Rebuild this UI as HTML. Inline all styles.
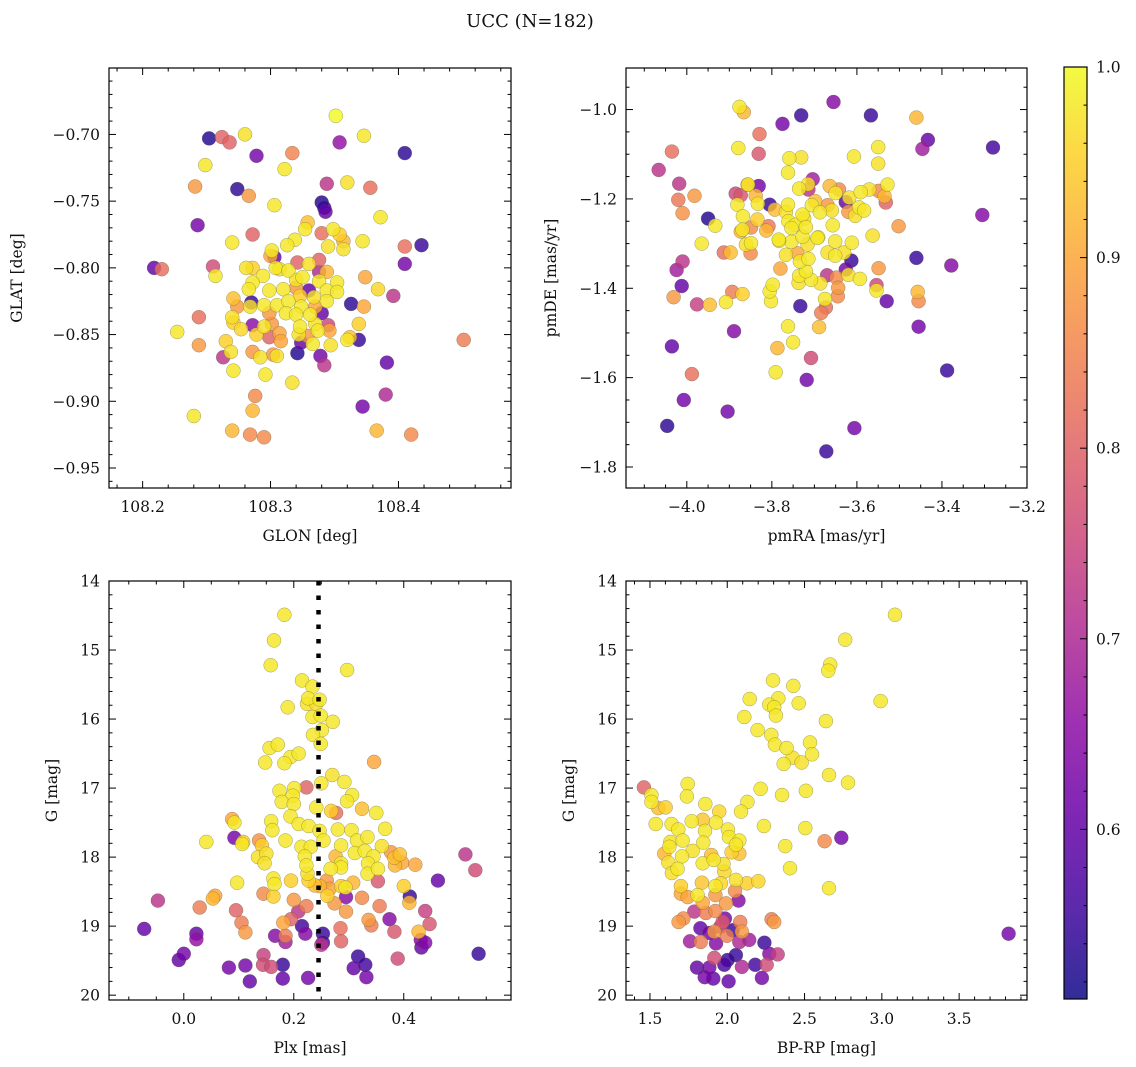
<!DOCTYPE html>
<html><head><meta charset="utf-8"><title>UCC (N=182)</title>
<style>
html,body{margin:0;padding:0;background:#fff;}
svg{display:block;font-family:"DejaVu Serif","Liberation Serif",serif;}
</style></head>
<body>
<svg id="fig" width="1136" height="1067" viewBox="0 0 1136 1067" xmlns="http://www.w3.org/2000/svg">
<defs>
<linearGradient id="plasmaGrad" x1="0" y1="1" x2="0" y2="0">
<stop offset="0" stop-color="#0d0887"/><stop offset="0.1" stop-color="#41049d"/><stop offset="0.2" stop-color="#6a00a8"/><stop offset="0.3" stop-color="#8f0da4"/><stop offset="0.4" stop-color="#b12a90"/><stop offset="0.5" stop-color="#cc4778"/><stop offset="0.6" stop-color="#e16462"/><stop offset="0.7" stop-color="#f2844b"/><stop offset="0.8" stop-color="#fca636"/><stop offset="0.9" stop-color="#fcce25"/><stop offset="1" stop-color="#f0f921"/>
</linearGradient>
</defs>
<text x="530" y="27" font-size="18" text-anchor="middle" fill="#111">UCC (N=182)</text>
</svg>
<script>
// ---- Panel 1: GLON vs GLAT ----
const glonX = [108.351,108.252,108.262,108.268,108.280,108.354,108.373,108.405,108.289,108.317,108.249,108.311,108.241,108.274,108.283,108.344,108.360,108.378,108.303,108.340,108.342,108.343,108.386,108.243,108.286,108.329,108.327,108.340,108.349,108.354,108.357,108.357,108.270,108.319,108.313,108.345,108.372,108.405,108.418,108.301,108.303,108.300,108.209,108.215,108.255,108.257,108.281,108.286,108.321,108.338,108.330,108.304,108.307,108.314,108.294,108.286,108.283,108.320,108.325,108.338,108.344,108.338,108.352,108.405,108.374,108.384,108.396,108.299,108.310,108.320,108.330,108.334,108.344,108.352,108.271,108.285,108.274,108.284,108.295,108.305,108.314,108.323,108.324,108.335,108.344,108.363,108.373,108.244,108.227,108.270,108.271,108.277,108.286,108.295,108.301,108.299,108.312,108.320,108.331,108.340,108.323,108.335,108.345,108.346,108.337,108.289,108.299,108.307,108.308,108.322,108.324,108.329,108.333,108.369,108.360,108.362,108.369,108.265,108.244,108.263,108.269,108.286,108.292,108.302,108.305,108.321,108.339,108.342,108.347,108.271,108.296,108.317,108.391,108.288,108.390,108.372,108.286,108.240,108.270,108.284,108.295,108.383,108.410,108.451];
const glatY = [-0.686,-0.703,-0.702,-0.706,-0.700,-0.706,-0.701,-0.714,-0.716,-0.714,-0.723,-0.726,-0.739,-0.741,-0.746,-0.737,-0.736,-0.740,-0.753,-0.751,-0.755,-0.758,-0.762,-0.768,-0.775,-0.766,-0.771,-0.774,-0.771,-0.775,-0.780,-0.786,-0.781,-0.779,-0.783,-0.784,-0.780,-0.784,-0.783,-0.787,-0.792,-0.791,-0.800,-0.801,-0.799,-0.806,-0.800,-0.800,-0.796,-0.794,-0.797,-0.800,-0.801,-0.802,-0.806,-0.811,-0.816,-0.809,-0.807,-0.803,-0.803,-0.810,-0.811,-0.797,-0.807,-0.816,-0.821,-0.817,-0.816,-0.815,-0.817,-0.822,-0.817,-0.818,-0.823,-0.826,-0.829,-0.829,-0.828,-0.828,-0.825,-0.821,-0.829,-0.829,-0.825,-0.827,-0.829,-0.837,-0.848,-0.837,-0.841,-0.846,-0.843,-0.844,-0.842,-0.834,-0.834,-0.835,-0.835,-0.834,-0.844,-0.842,-0.843,-0.847,-0.847,-0.850,-0.852,-0.849,-0.855,-0.850,-0.856,-0.851,-0.857,-0.842,-0.854,-0.852,-0.854,-0.855,-0.858,-0.867,-0.863,-0.863,-0.867,-0.865,-0.866,-0.864,-0.866,-0.873,-0.858,-0.877,-0.880,-0.886,-0.871,-0.896,-0.895,-0.904,-0.907,-0.911,-0.922,-0.925,-0.927,-0.922,-0.925,-0.854];
const glatProb = [1.0,0.53,0.8,0.8,0.97,0.66,0.98,0.54,0.62,0.85,0.98,0.98,0.88,0.54,0.88,0.72,0.97,0.82,0.98,0.53,0.55,0.6,0.98,0.62,0.8,0.93,0.98,0.82,0.98,0.95,0.92,0.97,0.98,0.98,0.98,0.97,0.98,0.82,0.55,0.98,0.6,0.9,0.6,0.82,0.76,0.98,0.97,0.95,0.8,0.8,0.97,0.98,0.97,0.98,0.98,0.98,0.98,0.97,0.98,0.7,0.92,0.98,0.98,0.62,0.9,0.96,0.72,0.98,0.98,0.88,0.6,0.97,0.98,0.98,0.93,0.55,0.88,0.97,0.98,0.98,0.98,0.95,0.98,0.9,0.98,0.54,0.9,0.82,0.98,0.97,0.95,0.96,0.65,0.97,0.88,0.88,0.98,0.98,0.98,0.6,0.98,0.97,0.75,0.9,0.98,0.95,0.8,0.9,0.9,0.97,0.6,0.88,0.98,0.95,0.98,0.93,0.55,0.95,0.88,0.72,0.97,0.88,0.97,0.88,0.97,0.53,0.62,0.72,0.97,0.98,0.98,0.97,0.6,0.86,0.7,0.62,0.92,0.98,0.92,0.86,0.86,0.92,0.86,0.84];

// ---- Panel 2: pmRA vs pmDE ----
const pmraX = [-3.876,-3.866,-3.655,-3.731,-3.775,-3.567,-3.460,-3.829,-3.433,-3.446,-3.280,-4.035,-3.879,-3.831,-3.759,-3.731,-3.607,-3.550,-3.550,-4.066,-3.762,-4.018,-3.982,-4.020,-4.010,-3.950,-3.933,-3.965,-3.913,-3.897,-4.010,-4.024,-4.012,-4.031,-3.976,-3.946,-3.908,-3.893,-3.869,-3.889,-4.035,-3.988,-4.007,-3.904,-4.046,-3.802,-3.805,-3.798,-3.780,-3.733,-3.762,-3.750,-3.787,-3.791,-3.708,-3.718,-3.689,-3.684,-3.673,-3.675,-3.606,-3.672,-3.645,-3.644,-3.648,-3.670,-3.708,-3.686,-3.736,-3.737,-3.720,-3.734,-3.714,-3.740,-3.767,-3.754,-3.783,-3.728,-3.691,-3.651,-3.669,-3.651,-3.630,-3.612,-3.613,-3.626,-3.620,-3.593,-3.549,-3.554,-3.554,-3.530,-3.460,-3.378,-3.457,-3.455,-3.455,-3.388,-3.305,-3.502,-3.563,-3.604,-3.595,-3.583,-3.620,-3.626,-3.618,-3.650,-3.664,-3.642,-3.591,-3.571,-3.549,-3.535,-3.532,-3.528,-3.704,-3.714,-3.736,-3.715,-3.762,-3.767,-3.761,-3.745,-3.728,-3.724,-3.720,-3.706,-3.698,-3.687,-3.669,-3.659,-3.657,-3.693,-3.716,-3.805,-3.793,-3.857,-3.831,-3.856,-3.885,-3.873,-3.838,-3.833,-3.881,-3.868,-3.834,-3.808,-3.813,-3.849,-3.869,-3.873,-3.861,-3.849,-3.850,-3.784,-3.754];
const pmdeY = [-0.994,-1.006,-0.983,-1.013,-1.032,-1.013,-1.018,-1.055,-1.068,-1.088,-1.085,-1.094,-1.086,-1.099,-1.109,-1.107,-1.105,-1.084,-1.121,-1.135,-1.141,-1.166,-1.193,-1.202,-1.232,-1.244,-1.260,-1.300,-1.320,-1.320,-1.340,-1.359,-1.395,-1.420,-1.436,-1.437,-1.431,-1.408,-1.413,-1.496,-1.530,-1.592,-1.650,-1.676,-1.708,-1.429,-1.407,-1.392,-1.356,-1.440,-1.485,-1.521,-1.534,-1.588,-1.556,-1.605,-1.487,-1.455,-1.443,-1.424,-1.713,-1.765,-1.418,-1.399,-1.376,-1.371,-1.381,-1.389,-1.372,-1.388,-1.362,-1.340,-1.334,-1.322,-1.325,-1.296,-1.294,-1.285,-1.286,-1.295,-1.320,-1.327,-1.320,-1.298,-1.338,-1.358,-1.370,-1.379,-1.355,-1.393,-1.405,-1.429,-1.332,-1.349,-1.408,-1.429,-1.486,-1.584,-1.236,-1.261,-1.282,-1.238,-1.219,-1.226,-1.229,-1.207,-1.197,-1.187,-1.171,-1.179,-1.185,-1.179,-1.182,-1.194,-1.208,-1.168,-1.156,-1.179,-1.177,-1.167,-1.213,-1.229,-1.250,-1.258,-1.235,-1.244,-1.263,-1.214,-1.205,-1.230,-1.214,-1.226,-1.259,-1.287,-1.302,-1.213,-1.224,-1.168,-1.171,-1.168,-1.188,-1.192,-1.193,-1.211,-1.213,-1.239,-1.246,-1.261,-1.271,-1.264,-1.269,-1.273,-1.302,-1.299,-1.322,-1.291,-1.265];
const pmProb = [0.98,0.92,0.64,0.55,0.62,0.55,0.92,0.82,0.6,0.68,0.56,0.82,0.98,0.78,0.98,0.97,0.98,0.98,0.97,0.72,0.98,0.72,0.88,0.83,0.87,0.53,0.98,0.98,0.82,0.93,0.72,0.68,0.6,0.88,0.74,0.93,0.98,0.84,0.95,0.64,0.6,0.82,0.62,0.62,0.54,0.98,0.98,0.98,0.9,0.55,0.98,0.98,0.92,0.98,0.76,0.62,0.93,0.84,0.82,0.98,0.62,0.55,0.86,0.88,0.86,0.72,0.98,0.97,0.98,0.97,0.98,0.98,0.98,0.9,0.97,0.98,0.98,0.98,0.98,0.98,0.97,0.98,0.97,0.98,0.55,0.62,0.97,0.98,0.88,0.75,0.98,0.6,0.55,0.64,0.92,0.86,0.62,0.55,0.64,0.88,0.97,0.97,0.98,0.98,0.88,0.6,0.97,0.98,0.92,0.86,0.98,0.97,0.86,0.92,0.8,0.98,0.68,0.72,0.98,0.97,0.98,0.97,0.98,0.98,0.98,0.97,0.98,0.98,0.93,0.98,0.88,0.97,0.98,0.98,0.97,0.55,0.93,0.87,0.62,0.98,0.75,0.78,0.92,0.98,0.98,0.98,0.95,0.83,0.92,0.86,0.98,0.92,0.97,0.98,0.86,0.98,0.98];

// ---- Panel 3: Plx vs G ----
const plxX = [0.183,0.164,0.158,0.297,0.215,0.234,0.226,0.224,0.247,0.241,0.189,0.234,0.249,0.271,0.251,0.235,0.249,0.156,0.171,0.194,0.209,0.183,0.148,0.346,0.223,0.270,0.292,0.250,0.174,0.201,0.198,0.178,0.200,0.306,0.297,0.241,0.268,0.277,0.324,0.350,0.088,0.092,0.159,0.161,0.194,0.209,0.227,0.247,0.280,0.305,0.366,0.041,0.092,0.108,0.106,0.137,0.142,0.185,0.254,0.286,0.315,0.334,0.360,0.135,0.150,0.147,0.214,0.231,0.220,0.223,0.225,0.276,0.311,0.329,0.345,0.335,0.334,0.286,0.286,0.267,0.353,0.377,0.383,0.393,0.397,0.384,0.421,0.512,0.530,0.462,0.353,0.400,0.411,0.410,0.097,0.163,0.165,0.195,0.227,0.238,0.247,0.260,0.265,0.286,0.294,0.308,0.261,0.274,0.295,0.324,0.356,0.145,0.163,0.200,0.223,0.057,0.053,0.029,-0.047,0.095,0.105,0.112,0.208,0.195,0.181,0.295,0.285,0.336,0.341,0.374,0.383,0.439,0.447,0.427,0.431,0.432,0.439,0.389,0.536,-0.072,0.023,0.023,0.000,-0.009,0.082,0.112,0.120,0.145,0.144,0.159,0.180,0.180,0.166,0.185,0.185,0.215,0.221,0.226,0.253,0.253,0.250,0.286,0.317,0.309,0.330,0.332];
const plxG = [14.49,14.86,15.22,15.29,15.44,15.53,15.70,15.78,15.72,15.78,15.83,15.97,15.95,16.04,16.16,16.23,16.36,16.42,16.37,16.55,16.50,16.64,16.63,16.62,16.99,16.81,16.91,16.93,17.04,17.00,17.11,17.20,17.23,17.10,17.19,17.28,17.33,17.36,17.30,17.36,17.45,17.50,17.48,17.61,17.41,17.52,17.55,17.62,17.60,17.61,17.59,17.78,17.72,17.78,17.81,17.76,17.83,17.76,17.76,17.83,17.76,17.71,17.84,18.00,17.95,18.09,17.85,17.85,17.99,18.12,18.24,17.99,17.94,17.91,17.99,18.09,18.24,18.09,18.15,18.17,18.17,17.93,18.01,17.96,18.08,18.12,18.11,17.96,18.19,18.34,18.35,18.42,18.57,18.66,18.37,18.31,18.39,18.34,18.34,18.41,18.42,18.34,18.46,18.42,18.44,18.37,18.56,18.67,18.58,18.59,18.71,18.53,18.57,18.62,18.71,18.56,18.60,18.73,18.63,18.77,18.95,19.09,18.79,18.90,18.95,18.79,19.03,18.91,18.99,18.90,19.08,18.78,18.97,19.08,19.20,19.31,19.24,19.47,19.40,19.04,19.11,19.19,19.40,19.49,19.60,19.57,19.80,19.42,19.56,19.59,19.56,19.76,19.14,19.23,19.14,19.00,19.11,19.75,19.11,19.24,19.27,19.22,19.44,19.61,19.56,19.74];
const plxProb = [0.98,0.98,0.98,0.98,0.98,0.98,0.98,0.97,0.98,0.97,0.98,0.98,0.98,0.98,0.98,0.98,0.98,0.98,0.98,0.98,0.98,0.98,0.98,0.9,0.8,0.97,0.98,0.98,0.98,0.98,0.98,0.98,0.98,0.98,0.98,0.98,0.95,0.82,0.93,0.98,0.9,0.98,0.98,0.98,0.98,0.98,0.98,0.98,0.98,0.98,0.98,0.98,0.62,0.95,0.98,0.87,0.95,0.98,0.98,0.98,0.98,0.98,0.97,0.97,0.97,0.97,0.98,0.98,0.98,0.98,0.97,0.92,0.98,0.98,0.98,0.98,0.98,0.98,0.98,0.98,0.98,0.88,0.93,0.93,0.9,0.92,0.9,0.72,0.76,0.6,0.78,0.95,0.55,0.92,0.98,0.98,0.98,0.95,0.95,0.93,0.92,0.88,0.9,0.95,0.98,0.92,0.95,0.88,0.64,0.86,0.84,0.86,0.95,0.88,0.84,0.9,0.92,0.84,0.72,0.8,0.84,0.88,0.72,0.8,0.9,0.88,0.82,0.88,0.84,0.64,0.78,0.74,0.78,0.92,0.64,0.6,0.64,0.76,0.55,0.6,0.6,0.66,0.62,0.6,0.62,0.62,0.6,0.74,0.76,0.76,0.55,0.6,0.64,0.68,0.84,0.56,0.64,0.62,0.55,0.57,0.72,0.8,0.55,0.6,0.56,0.62];

// ---- Panel 4: BP-RP vs G ----
const bprpX = [3.085,2.763,2.666,2.653,2.296,2.427,2.145,2.330,2.272,2.304,2.315,2.462,2.992,2.110,2.196,2.285,2.308,2.638,2.535,2.384,2.423,2.481,2.548,2.365,2.658,2.781,1.461,1.509,1.509,1.554,1.601,1.744,1.739,1.858,1.948,2.130,2.089,2.216,2.354,2.509,1.537,1.640,1.683,1.770,1.841,1.927,1.856,2.004,2.011,2.237,2.505,2.078,2.056,1.632,1.625,1.711,1.845,1.776,1.707,1.593,1.619,1.642,1.679,1.841,1.897,1.912,1.976,1.981,2.028,2.078,2.375,2.406,2.630,2.738,2.658,1.700,1.700,1.744,1.808,1.836,1.923,1.959,2.056,2.127,2.201,1.923,1.841,1.992,2.073,2.050,1.787,1.862,1.923,1.985,1.970,1.716,1.685,2.287,2.304,2.084,2.095,1.826,1.884,1.916,1.955,1.759,1.828,1.927,1.998,2.035,2.078,2.142,2.240,2.272,2.326,2.056,2.002,1.981,1.916,1.804,1.884,2.095,2.181,2.255,1.854,1.910,2.009,2.224,3.820];
const bprpG = [14.49,14.85,15.21,15.30,15.44,15.52,15.71,15.70,15.79,15.83,15.95,15.77,15.74,15.97,16.16,16.23,16.37,16.03,16.34,16.42,16.56,16.63,16.51,16.65,16.81,16.92,16.99,17.10,17.20,17.29,17.28,16.94,17.12,17.23,17.34,17.20,17.34,17.01,17.10,17.04,17.52,17.52,17.60,17.48,17.46,17.50,17.62,17.60,17.71,17.55,17.58,17.76,17.82,17.78,17.85,17.76,17.79,17.91,17.99,17.95,18.08,18.23,18.17,18.09,17.97,18.04,18.10,18.21,17.93,17.95,17.84,18.16,17.77,17.72,18.45,18.42,18.53,18.58,18.55,18.37,18.42,18.38,18.33,18.38,18.35,18.55,18.66,18.67,18.63,18.49,18.79,18.81,18.78,18.89,18.94,18.89,18.94,18.90,18.94,18.94,19.08,19.03,19.10,19.08,19.01,19.22,19.23,19.25,19.14,19.06,19.23,19.20,19.24,19.40,19.41,19.42,19.49,19.56,19.46,19.60,19.60,19.59,19.56,19.56,19.74,19.76,19.80,19.75,19.11];
const bprpProb = [0.98,0.98,0.98,0.98,0.98,0.98,0.98,0.98,0.98,0.98,0.98,0.98,0.98,0.98,0.98,0.98,0.98,0.98,0.98,0.98,0.97,0.97,0.98,0.98,0.98,0.98,0.8,0.98,0.98,0.93,0.95,0.98,0.98,0.98,0.96,0.98,0.98,0.98,0.98,0.98,0.98,0.98,0.98,0.98,0.94,0.98,0.98,0.98,0.98,0.98,0.98,0.98,0.98,0.97,0.98,0.98,0.98,0.97,0.98,0.92,0.97,0.97,0.98,0.98,0.93,0.98,0.97,0.96,0.95,0.93,0.98,0.98,0.86,0.62,0.98,0.95,0.9,0.9,0.98,0.94,0.98,0.96,0.97,0.95,0.96,0.88,0.9,0.88,0.64,0.86,0.72,0.84,0.86,0.62,0.78,0.86,0.88,0.84,0.88,0.84,0.88,0.6,0.62,0.88,0.72,0.68,0.84,0.64,0.84,0.55,0.7,0.68,0.55,0.64,0.74,0.55,0.55,0.57,0.76,0.6,0.62,0.7,0.56,0.76,0.62,0.6,0.6,0.62,0.62];

// reference line & colorbar
const plxRef = [0.245];
const cbarTicks = [0.6,0.7,0.8,0.9,1.0];
const cbarTickLabels = ["0.6","0.7","0.8","0.9","1.0"];
const vMin = 0.511, vMax = 1.0;

const NS = "http://www.w3.org/2000/svg";
const svg = document.getElementById('fig');
const plasma = [[13,8,135],[65,4,157],[106,0,168],[143,13,164],[177,42,144],[204,71,120],[225,100,98],[242,132,75],[252,166,54],[252,206,37],[240,249,33]];
function cmap(v){
  let t = (v - vMin)/(vMax - vMin); t = Math.max(0, Math.min(1, t));
  const f = t*10, i = Math.min(9, Math.floor(f)), r = f - i;
  const a = plasma[i], b = plasma[i+1];
  return 'rgb(' + [0,1,2].map(k => Math.round(a[k] + (b[k]-a[k])*r)).join(',') + ')';
}
function mk(tag, attrs, parent){
  const e = document.createElementNS(NS, tag);
  for (const k in attrs) e.setAttribute(k, attrs[k]);
  (parent || svg).appendChild(e);
  return e;
}
function ticksBetween(lo, hi, step){
  const out = []; const s = Math.ceil(lo/step - 1e-6);
  for (let i = s; i*step <= hi + 1e-9; i++) out.push(+(i*step).toFixed(6));
  return out;
}
function fmt(v, dec){ const s = Math.abs(v).toFixed(dec); return (v < -1e-9 ? '\u2212' : '') + s; }

function drawPanel(p, xs, ys, cs){
  const g = mk('g', {});
  
  
  const X = v => p.x0 + (v - p.xmin)/(p.xmax - p.xmin)*(p.x1 - p.x0);
  const Y = p.yinv ? (v => p.y0 + (v - p.ymin)/(p.ymax - p.ymin)*(p.y1 - p.y0))
                   : (v => p.y1 - (v - p.ymin)/(p.ymax - p.ymin)*(p.y1 - p.y0));
  const clipId = 'clip-' + p.name;
  const cp = mk('clipPath', {id: clipId}, g);
  mk('rect', {x: p.x0, y: p.y0, width: p.x1-p.x0, height: p.y1-p.y0}, cp);
  const pts = mk('g', {'clip-path': 'url(#' + clipId + ')'}, g);
  
  
  const order = xs.map((_, i) => i).sort((a, b) => cs[a] - cs[b]);
  order.forEach(i => {
    const c = mk('circle', {cx: X(xs[i]).toFixed(1), cy: Y(ys[i]).toFixed(1), r: 7, fill: cmap(cs[i]), 'fill-opacity': 0.82, stroke: '#5a5a40', 'stroke-opacity': 0.55, 'stroke-width': 0.5}, pts);
    
    
  });
  if (p.vline) {
    p.vline.forEach(v => {
      const l = mk('line', {x1: X(v), x2: X(v), y1: p.y0, y2: p.y1, stroke: '#000', 'stroke-width': 4.5, 'stroke-dasharray': '4.5 10'}, g);
      
      
    });
  }
  // frame
  const fr = mk('rect', {x: p.x0, y: p.y0, width: p.x1-p.x0, height: p.y1-p.y0, fill: 'none', stroke: '#000', 'stroke-width': 1.2}, g);
  
  
  // ticks
  const tk = mk('g', {stroke: '#000', 'stroke-width': 1}, g);
  
  
  ticksBetween(p.xmin, p.xmax, p.xminor).forEach(v => {
    const isMaj = p.xmajor.some(m => Math.abs(m - v) < 1e-6);
    const L = isMaj ? 7 : 3.5, x = X(v);
    mk('line', {x1: x, x2: x, y1: p.y1, y2: p.y1 - L}, tk);
    mk('line', {x1: x, x2: x, y1: p.y0, y2: p.y0 + L}, tk);
  });
  ticksBetween(Math.min(p.ymin,p.ymax), Math.max(p.ymin,p.ymax), p.yminor).forEach(v => {
    const isMaj = p.ymajor.some(m => Math.abs(m - v) < 1e-6);
    const L = isMaj ? 7 : 3.5, y = Y(v);
    mk('line', {x1: p.x0, x2: p.x0 + L, y1: y, y2: y}, tk);
    mk('line', {x1: p.x1, x2: p.x1 - L, y1: y, y2: y}, tk);
  });
  p.xmajor.forEach(v => {
    const t = mk('text', {x: X(v), y: p.y1 + 24, 'font-size': 15.5, 'text-anchor': 'middle', fill: '#111'}, g);
    t.textContent = fmt(v, p.xdec);
    
    
  });
  p.ymajor.forEach(v => {
    const t = mk('text', {x: p.x0 - 9, y: Y(v) + 5.5, 'font-size': 15.5, 'text-anchor': 'end', fill: '#111'}, g);
    t.textContent = fmt(v, p.ydec);
    
    
  });
  const xl = mk('text', {x: (p.x0 + p.x1)/2, y: p.y1 + 53, 'font-size': 15.5, 'text-anchor': 'middle', fill: '#111'}, g);
  xl.textContent = p.xlabel;
  
  
  const yl = mk('text', {x: 0, y: 0, 'font-size': 15.5, 'text-anchor': 'middle', fill: '#111', transform: 'translate(' + p.ylx + ',' + ((p.y0 + p.y1)/2) + ') rotate(-90)'}, g);
  yl.textContent = p.ylabel;
  
  
}

drawPanel({name: 'glon-glat-panel', x0: 109, x1: 511, y0: 68, y1: 488, xmin: 108.1737, xmax: 108.488, ymin: -0.965, ymax: -0.6502,
  xmajor: [108.2,108.3,108.4], xminor: 0.02, ymajor: [-0.70,-0.75,-0.80,-0.85,-0.90,-0.95], yminor: 0.01, xdec: 1, ydec: 2,
  xlabel: 'GLON [deg]', ylabel: 'GLAT [deg]', ylx: 22}, glonX, glatY, glatProb);
drawPanel({name: 'pm-panel', x0: 626, x1: 1027, y0: 68, y1: 488, xmin: -4.143, xmax: -3.2, ymin: -1.847, ymax: -0.907,
  xmajor: [-4.0,-3.8,-3.6,-3.4,-3.2], xminor: 0.05, ymajor: [-1.0,-1.2,-1.4,-1.6,-1.8], yminor: 0.05, xdec: 1, ydec: 1,
  xlabel: 'pmRA [mas/yr]', ylabel: 'pmDE [mas/yr]', ylx: 556}, pmraX, pmdeY, pmProb);
drawPanel({name: 'plx-g-panel', x0: 109, x1: 511, y0: 581, y1: 1000, xmin: -0.136, xmax: 0.595, ymin: 14, ymax: 20.07, yinv: true,
  xmajor: [0.0,0.2,0.4], xminor: 0.05, ymajor: [14,15,16,17,18,19,20], yminor: 0.2, xdec: 1, ydec: 0,
  xlabel: 'Plx [mas]', ylabel: 'G [mag]', ylx: 57, vline: plxRef}, plxX, plxG, plxProb);
drawPanel({name: 'cmd-panel', x0: 626, x1: 1027, y0: 581, y1: 1000, xmin: 1.345, xmax: 3.939, ymin: 14, ymax: 20.07, yinv: true,
  xmajor: [1.5,2.0,2.5,3.0,3.5], xminor: 0.1, ymajor: [14,15,16,17,18,19,20], yminor: 0.2, xdec: 1, ydec: 0,
  xlabel: 'BP-RP [mag]', ylabel: 'G [mag]', ylx: 574}, bprpX, bprpG, bprpProb);

// colorbar
(function(){
  const g = mk('g', {});
  
  
  const cx0 = 1064, cx1 = 1087, cy0 = 67, cy1 = 999;
  const CY = v => cy1 - (v - vMin)/(vMax - vMin)*(cy1 - cy0);
  // gradient maps full plasma over vMin..vMax
  const bar = mk('rect', {x: cx0, y: cy0, width: cx1-cx0, height: cy1-cy0, fill: 'url(#plasmaGrad)', 'fill-opacity': 0.85}, g);
  
  
  mk('rect', {x: cx0, y: cy0, width: cx1-cx0, height: cy1-cy0, fill: 'none', stroke: '#000', 'stroke-width': 1.2}, g);
  ticksBetween(0.52, 1.0, 0.02).forEach(v => {
    const isMaj = cbarTicks.some(m => Math.abs(m - v) < 1e-6);
    const y = CY(v);
    mk('line', {x1: cx1, x2: cx1 - (isMaj ? 7 : 3.5), y1: y, y2: y, stroke: '#000', 'stroke-width': 1}, g);
  });
  cbarTicks.forEach((v, i) => {
    const t = mk('text', {x: cx1 + 9, y: CY(v) + 5.5, 'font-size': 15.5, fill: '#111'}, g);
    t.textContent = cbarTickLabels[i];
    
    
  });
})();
</script>
</body></html>
